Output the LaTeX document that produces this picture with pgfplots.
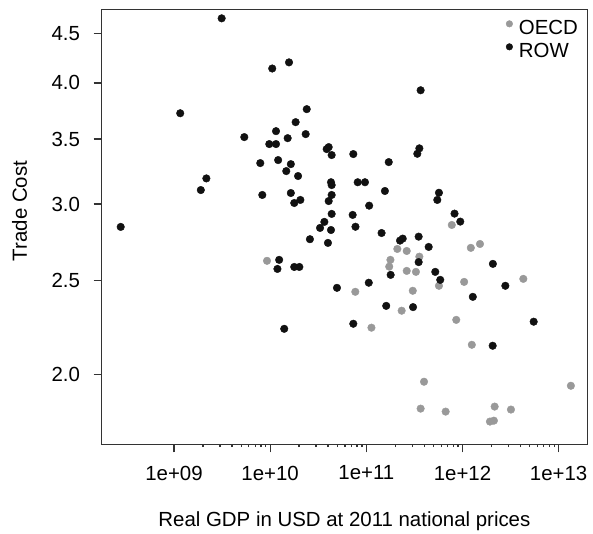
\documentclass[border=0pt]{standalone}
\usepackage{fontspec}
\setmainfont{Liberation Sans}
\usepackage{pgfplots}
\pgfplotsset{compat=1.18}

\definecolor{oecdgray}{HTML}{999999}
\definecolor{rowblack}{HTML}{111111}
\newcommand{\chartfont}{\fontsize{20.5}{24}\selectfont}

\begin{document}
\begin{tikzpicture}
\begin{axis}[
    scale only axis,
    width=485.8bp, height=434.8bp,
    xmode=log, ymode=log,
    xmin=1.762e8, xmax=1.986e13,
    ymin=1.695, ymax=4.762,
    xtick={1e9,1e10,1e11,1e12,1e13},
    xticklabels={\mbox{1e+09},\mbox{1e+10},\mbox{1e+11},\mbox{1e+12},\mbox{1e+13}},
    ytick={2,2.5,3,3.5,4,4.5},
    yticklabels={\mbox{2.0},\mbox{2.5},\mbox{3.0},\mbox{3.5},\mbox{4.0},\mbox{4.5}},
    minor xtick={}, minor ytick={},
    xtick pos=bottom, ytick pos=left, tick align=outside,
    major tick length=8bp,
    tick style={draw=black!80, line width=1.3bp},
    axis line style={draw=black!80, line width=1.3bp},
    tick label style={font=\chartfont},
    xticklabel style={yshift=-10bp},
    yticklabel style={xshift=-10bp},
    label style={font=\chartfont},
    xlabel={Real GDP in USD at 2011 national prices},
    ylabel={Trade Cost},
    xlabel style={at={(axis description cs:0.5,-0.1879)}, anchor=base},
    ylabel style={at={(axis description cs:-0.1534,0.5366)}, anchor=base},
    legend style={draw=none, fill=none, inner sep=0pt, font=\chartfont,
        at={(axis description cs:0.832,0.9845)}, anchor=north west,
        nodes={inner xsep=0bp, inner ysep=5bp, text height=13bp, text depth=0bp}},
    legend cell align=left,
    legend image code/.code={\fill[#1] (3.3bp,4.1bp) circle (3.3bp);},
]
\addplot[only marks, mark=*, mark size=3.8bp, color=oecdgray] coordinates {
(9.27e9,2.621) (7.74e11,2.854) (2.10e11,2.696) (2.63e11,2.683)
(3.56e11,2.647) (1.78e11,2.627) (1.73e11,2.585) (2.63e11,2.559)
(3.28e11,2.553) (5.69e11,2.470) (1.22e12,2.703) (1.52e12,2.728)
(1.04e12,2.493) (4.29e12,2.511) (7.68e10,2.435) (3.04e11,2.441)
(2.33e11,2.328) (1.13e11,2.236) (8.61e11,2.278) (1.25e12,2.147)
(3.98e11,1.967) (1.34e13,1.948) (3.67e11,1.845) (6.68e11,1.832)
(2.16e12,1.854) (3.19e12,1.841) (1.93e12,1.789) (2.12e12,1.793)
};
\addlegendentry{\hspace{6bp}OECD}
\addplot[only marks, mark=*, mark size=3.8bp, color=rowblack] coordinates {
(3.13e9,4.663) (1.05e10,4.139) (1.57e10,4.200) (1.16e9,3.722)
(2.40e10,3.758) (1.84e10,3.644) (1.15e10,3.567) (5.38e9,3.517)
(1.52e10,3.508) (2.34e10,3.542) (9.79e9,3.459) (1.15e10,3.459)
(3.87e10,3.418) (4.06e10,3.434) (4.36e10,3.370) (7.89e9,3.306)
(1.21e10,3.330) (1.64e10,3.298) (1.47e10,3.244) (1.95e10,3.206)
(2.17e9,3.188) (1.90e9,3.101) (8.28e9,3.065) (1.64e10,3.079)
(1.78e10,3.007) (2.06e10,3.029) (4.29e10,3.159) (4.36e10,3.138)
(4.36e10,3.065) (4.06e10,3.021) (4.36e10,2.930) (3.66e10,2.875)
(3.30e10,2.834) (4.29e10,2.820) (2.79e8,2.841) (2.59e10,2.759)
(3.99e10,2.735) (1.24e10,2.627) (1.19e10,2.571) (1.78e10,2.583)
(2.01e10,2.583) (4.95e10,2.458) (1.40e10,2.230) (3.67e11,3.931)
(3.56e11,3.424) (3.39e11,3.380) (7.32e10,3.378) (1.71e11,3.314)
(8.13e10,3.159) (9.68e10,3.159) (1.56e11,3.094) (1.07e11,2.988)
(5.69e11,3.081) (5.47e11,3.029) (7.21e10,2.923) (8.26e11,2.932)
(9.48e11,2.877) (7.71e10,2.842) (1.44e11,2.800) (2.24e11,2.750)
(2.39e11,2.763) (3.50e11,2.776) (4.45e11,2.709) (3.50e11,2.613)
(1.79e11,2.535) (5.21e11,2.553) (5.87e11,2.505) (2.07e12,2.602)
(2.79e12,2.470) (1.28e12,2.406) (1.06e11,2.488) (1.61e11,2.355)
(3.06e11,2.348) (7.32e10,2.257) (5.50e12,2.268) (2.06e12,2.142)
};
\addlegendentry{\hspace{6bp}ROW}
\end{axis}
\path (-101.5bp,-87.7bp) rectangle (491.5bp,444.3bp);
\end{tikzpicture}
\end{document}
